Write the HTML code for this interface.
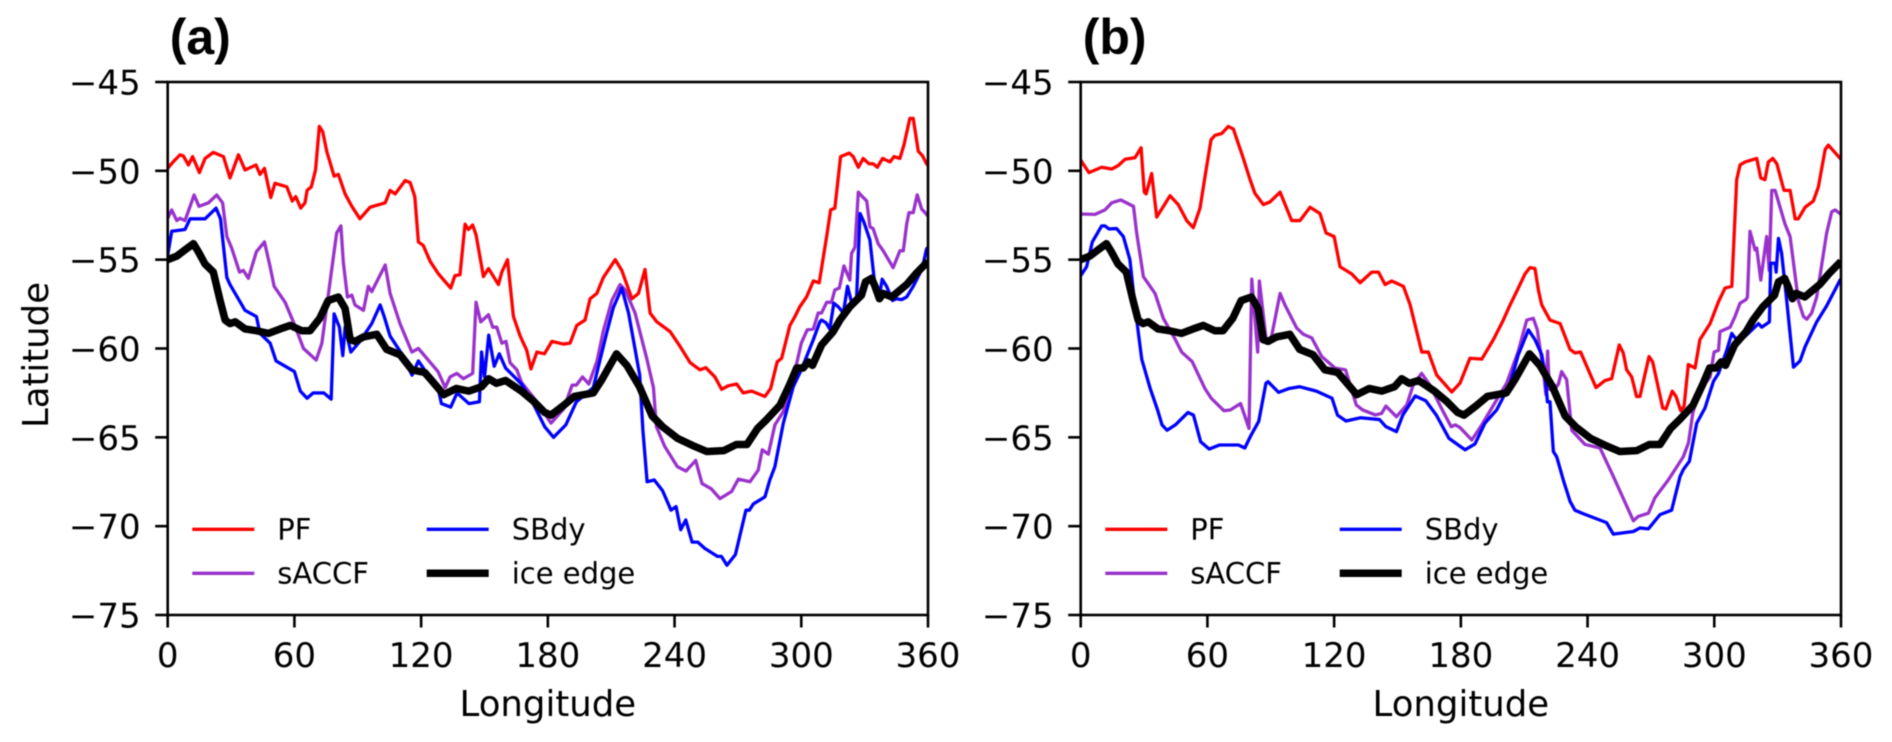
<!DOCTYPE html>
<html lang="en">
<head>
<meta charset="utf-8">
<title>Antarctic fronts and ice edge by longitude</title>
<style>
html,body{margin:0;padding:0;background:#fff;width:1892px;height:742px;overflow:hidden}
svg{display:block;filter:blur(0.5px)}
text{font-family:"DejaVu Sans","Liberation Sans",sans-serif;fill:#000}
.panel-tag{font-family:"Liberation Sans",sans-serif;font-weight:bold}
</style>
</head>
<body>
<svg id="chart" xmlns="http://www.w3.org/2000/svg" width="1892" height="742" viewBox="0 0 1892 742"></svg>
<script>
const xTicks=[0,60,120,180,240,300,360];
const yTicks=[-45,-50,-55,-60,-65,-70,-75];
const legendLabels=['PF','sACCF','SBdy','ice edge'];

const pfALon=[0,2.7,5.8,7.4,9.8,11.8,15,17.7,21.6,26.4,
29.5,33.5,36.6,41.8,43.7,45.8,48.8,50.8,56.4,59,
60.6,63,65,66,68,70,71.8,73.4,75.3,78.8,
80.8,84,87.2,91,95.8,103,105.3,107.7,112.4,114.8,
117,118.7,121,124.3,128.2,134,136,138.4,140.8,142.4,
144.4,146,149.5,151.9,156.6,158.2,160.9,163.7,166.9,170,
172,174.8,178.4,181.9,187.4,190.5,193.7,197.6,200,203.2,
206.3,211.9,215,219.8,222.9,226,228.4,231.6,237.9,242.7,
247.4,252,254.8,259.1,262.3,265.4,269.4,272.5,276.5,282.8,
285.5,288.6,290.7,294.6,297,299.3,302.5,305.7,308.5,312,
313.9,315.9,318.6,322.7,324.6,327,329.3,332,334,336,
338.5,342,343.9,346.7,348.6,351.4,353,355.4,357.4,359.3,360];
const pfALat=[-49.86,-49.48,-49.1,-49.16,-49.67,-49.2,-50.1,-49.3,-48.96,-49.2,
-50.4,-49.1,-49.95,-49.67,-50.2,-49.86,-51.5,-50.7,-50.9,-51.7,
-51.45,-52.1,-51.8,-51.1,-50.9,-49.95,-47.5,-47.8,-48.9,-50.3,
-50.2,-51.3,-52,-52.7,-52.05,-51.8,-51.1,-51.3,-50.55,-50.66,
-51.45,-54,-54.2,-55.1,-55.8,-56.6,-55.9,-55.85,-53,-53.3,
-53.05,-53.6,-55.95,-55.5,-56.4,-55.7,-55,-58.2,-59.3,-60.1,
-61.15,-60.2,-60.3,-59.6,-59.75,-59.7,-58.7,-58.4,-57.2,-56.9,
-56,-55,-55.6,-57.2,-56.9,-55.55,-58,-58.5,-59.05,-59.9,
-60.8,-61.2,-61.08,-61.6,-62.3,-62.1,-62,-62.5,-62.4,-62.7,
-62.25,-60.75,-60.55,-58.7,-58.2,-57.65,-57.1,-56.2,-56.3,-53.7,
-52.2,-52.1,-49.2,-49,-49.2,-49.8,-49.3,-49.6,-49.6,-49.8,
-49.3,-49.5,-49.2,-49.3,-48.55,-47.05,-47.05,-48.9,-49.15,-49.6,-49.7];

const saccfALon=[0,1.9,4.3,5.8,8.2,12.5,14.8,19.3,23.2,26,
28,30.3,34,35.8,38.2,42,45.8,48.5,50.4,55.6,
59.5,64.3,70.3,73,78.5,80,82,83.2,85.1,87.2,
88.7,92.7,95,96.6,103,105.3,110,115.6,118.7,128,
131.4,133.7,136.9,140,144.4,146,148.2,151.9,153.9,155.8,
158.2,160.2,162.1,165.3,167.5,173.5,181.5,187.5,191.5,193.5,
196.4,199.4,203.3,206.3,210.3,214.2,216.6,221.3,226.9,230,
231.4,235.3,241.3,245.4,250,253,257.4,261.5,267,270.2,
275.7,279.6,281.5,284.4,287.5,291.5,293.8,297.8,300,302.8,
305.7,308,309.6,312,314.3,315.9,318,320.2,323,323.8,
325.4,327,328.5,331,332.5,334,336.4,338.8,343.5,346.7,
348.3,349.9,351,353,354.9,357,359.3,360];
const saccfALat=[-52.67,-52.2,-52.8,-52.67,-52.8,-51.36,-52,-51.8,-51.36,-51.8,
-53.7,-54.35,-55.7,-55.6,-56.05,-54.55,-54,-55.4,-56.5,-57.4,
-58.5,-60,-60.65,-59.7,-54.8,-53.5,-53.1,-55.2,-57.1,-57,
-57.55,-57.85,-56.5,-56.8,-55.3,-56.9,-58.6,-60.2,-60,-61.3,
-62.2,-61.6,-61.4,-61.7,-61.4,-57.4,-58.5,-58.1,-58.8,-58.8,
-59.7,-59.6,-60.8,-61.2,-61.9,-62.8,-64.2,-63.4,-62.06,-62.06,
-61.6,-62,-60.7,-59,-57.3,-56.4,-56.7,-58,-60.6,-62.2,
-64.4,-65.5,-66.65,-66.9,-66.3,-67.6,-67.9,-68.45,-68.05,-67.35,
-67.5,-66.85,-65.7,-65.95,-64.3,-63.55,-62.5,-60.85,-59.7,-58.95,
-58.9,-58,-58,-57.4,-57.4,-56.7,-56.6,-55.35,-56.15,-54.65,
-54.3,-51.2,-51.4,-51.7,-53.15,-53.25,-54.1,-54.5,-55.45,-54.5,
-54.5,-53,-52.35,-52.35,-51.35,-52.15,-52.45,-52.55];

const sbdyALon=[0,1.9,8.2,10.6,17.7,22.9,25,28,29.5,36.6,
42,43.7,48.5,51.3,60,62.8,66,68.9,73.9,77.4,
78.8,81.3,82.9,84,86.7,91,96.6,100.6,102.5,105.3,
110.8,115.7,118.7,121.6,127.7,129.6,134,137,142.6,147.6,
148.6,150,152,154.6,157,160,167.5,173.5,178.5,182.7,
188.5,193.5,201.5,207.9,211,215,218.2,223.5,225,227,
230.4,234.3,238.3,240.7,242.9,245.3,248.3,251,254.3,260.3,
262.2,264.8,268.8,270.6,273.8,275.4,277.3,282.8,285.1,287.5,
291.5,296.2,300,305.7,308.8,309.6,311.7,313.5,315.4,317.5,
319.9,321.9,323.8,326.2,327.8,329.7,332.5,334.9,336.8,338.3,
340.4,343.2,345,347.5,349.9,353,356.2,358,359.3,360];
const sbdyALat=[-54.75,-53.4,-53.3,-52.7,-52.7,-52.1,-52.7,-56,-56.4,-57.85,
-58.2,-59.15,-59.7,-60.7,-61.3,-62.4,-62.8,-62.5,-62.5,-62.85,
-58.05,-58.8,-60.4,-58.8,-60.2,-59.6,-58.6,-57.55,-58.2,-59.3,
-60.3,-61.5,-60.7,-61.2,-62.05,-63.1,-63.3,-62.5,-63.1,-63,
-60.2,-61.6,-59.25,-61,-60.3,-61.1,-62,-63.2,-64.4,-65,
-64.3,-63,-62.2,-59.1,-57.7,-56.6,-58,-61.5,-64.6,-67.5,
-67.4,-68,-69.1,-68.9,-70.2,-69.65,-70.9,-70.9,-71.25,-71.7,
-71.7,-72.2,-71.6,-70.7,-69.1,-69.1,-68.75,-68.35,-67.4,-66.65,
-64.2,-62.15,-61.2,-59.5,-58.5,-58.4,-58.55,-58.9,-57.45,-57.65,
-58,-56.5,-57.4,-57.1,-52.4,-52.9,-53.9,-56.5,-57.2,-56.1,
-56.5,-57.3,-57.2,-57.25,-57.1,-56.5,-55.75,-55.1,-54.4,-54.3];

const iceLon=[0,4.3,8.2,12.2,14.5,17.7,21.6,24.8,27.2,29.5,
32,36.6,42,47.7,53.2,58,63.5,67.4,72,76,
80.8,84,86.4,88.7,92.7,99,103.7,110,115.6,121.7,
125,130.7,136.6,142.6,148.6,152,155.6,160,167.5,173.5,
178.5,181.5,187.5,192.5,201.5,205.6,212.5,217.4,223.4,229.4,
234.3,241.3,249.3,255.3,263.3,269.3,274.3,279.3,283.6,289.9,
294.6,297.8,300.9,303.3,305.3,309.6,315.1,318.3,323,328.5,
330.4,333.3,334.9,337,338.8,342.8,349.9,354.6,360];
const iceLat=[-55,-54.8,-54.45,-54.1,-54.55,-55.25,-55.7,-57.3,-58.4,-58.6,
-58.5,-58.9,-59,-59.15,-58.9,-58.7,-59,-59,-58.3,-57.3,
-57.1,-57.75,-59.5,-59.6,-59.35,-59.2,-60.05,-60.35,-61.2,-61.35,
-61.8,-62.6,-62.25,-62.4,-62.15,-61.7,-61.96,-61.8,-62.4,-63,
-63.6,-63.75,-63.2,-62.7,-62.5,-61.75,-60.3,-60.95,-62.15,-63.8,
-64.4,-65.05,-65.5,-65.8,-65.75,-65.4,-65.4,-64.5,-64,-63.2,
-62,-61.1,-61.1,-60.75,-60.95,-59.8,-59.05,-58.4,-57.65,-57,
-56.25,-56.05,-56.5,-57.2,-56.9,-57.1,-56.4,-55.75,-55.1];

const pfBLon=[0,3.9,9.9,14.7,17.8,21,25.7,28.6,30.1,31,
33.6,36,42.3,46.2,50.2,53.3,56.5,58.9,61.7,63.6,
66.8,69.9,72.3,77,80.2,82.5,86.5,89.6,94.4,99.9,
103.8,108.6,113.3,116.2,120,122.8,128.3,132.3,137.8,141,
144.1,147.3,152.8,156,161.5,164.6,168.6,175.7,179.6,184.3,
189.9,195.4,200.1,203.3,206.4,210.4,212.7,215.1,216.7,218.3,
222.2,227,231.7,234,236.7,244,248.3,251.4,255,256.9,
258.5,260.9,263.2,264.8,269.1,270.8,275.6,277.1,280.1,281.9,
284.1,285.7,287.7,290.9,293.2,298,302,305.1,308.3,310.6,
312.2,314.6,320.1,322,324,325.6,327.7,329.6,333,335.9,
338.3,339.8,343,346.9,349.3,352.5,354,359.6,360];
const pfBLat=[-49.4,-50.1,-49.8,-49.9,-49.7,-49.35,-49.26,-48.7,-51.2,-51.3,
-50.15,-52.6,-51.4,-51.9,-52.8,-53.2,-52.1,-50.3,-48.25,-48,
-47.9,-47.5,-47.65,-49.3,-50.5,-51.27,-51.9,-51.75,-51.2,-52.8,
-52.8,-52.05,-52.4,-53.5,-53.7,-55.4,-55.8,-56.3,-55.7,-55.7,
-56.4,-56.2,-56.5,-57.55,-60.2,-60.2,-61.5,-62.45,-61.95,-60.55,
-60.6,-59.5,-58.4,-57.55,-56.8,-55.8,-55.45,-55.5,-56.7,-57.55,
-58.4,-58.6,-60.05,-60.25,-60.2,-62.2,-61.8,-61.7,-59.8,-60.25,
-61.2,-61.6,-62.7,-62.7,-60.45,-60.75,-63.35,-63.4,-62.4,-62.7,
-63.5,-63.25,-60.9,-61.1,-59.5,-58.6,-57.36,-56.6,-56.5,-50.5,
-49.67,-49.5,-49.3,-50.4,-50.5,-49.5,-49.3,-49.6,-51.1,-51.1,
-52.7,-52.7,-52.05,-51.7,-50.9,-48.8,-48.55,-49.3,-49.35];

const saccfBLon=[0,6.8,11.5,14.7,19,25,26.5,29.7,35.2,39.1,
44.8,47.8,52.8,58.8,61.8,67.8,70.8,75.7,79.7,81,
83.8,84.6,88,90.4,94.4,96.7,102.3,105.4,109.4,114.1,
120.4,125.4,130.5,133.5,139.5,142.5,144.5,149.5,154.4,157.4,
161.4,165.4,170.4,175.4,177.4,179.6,185.2,189.9,195.4,201.7,
207.2,211.2,214.3,216.2,219,220.3,221.1,221.9,224.4,226.2,
227.7,230.1,232.5,238.8,245.9,252.2,261.7,264,268.8,271.9,
278.2,285.3,287.8,289.8,292.5,298,299.9,302,302.7,307.5,
309.8,312.2,315,315.7,316.9,319.3,320.1,322,324.8,326,
327.2,328.8,333.5,335.9,339.8,342.2,343.8,346.1,348.5,350,
353.2,355.6,357.2,360];
const saccfBLat=[-52.43,-52.45,-52.2,-51.8,-51.64,-52,-53.5,-55.96,-56.9,-58.3,
-59.5,-60.2,-60.74,-62.25,-62.8,-63.5,-63.46,-63.1,-64.5,-56.1,
-60.2,-56.2,-59.7,-59.3,-56.9,-57.55,-58.85,-59.2,-59.4,-60.45,
-61.1,-61.2,-63.18,-63.46,-63.74,-63.65,-63.24,-63.84,-63.18,-62.06,
-61.4,-62.06,-63.27,-64.4,-64.3,-64.45,-65.15,-64.3,-63.2,-61.95,
-60.15,-58.4,-58.3,-58.95,-61.2,-62.6,-60.15,-62.3,-62.3,-62,
-61.3,-61.75,-64.6,-65.4,-65.6,-67.2,-69.7,-69.45,-69.27,-68.4,
-67.4,-66.1,-65.3,-63.65,-62.5,-61.6,-60.2,-60.1,-59.05,-58.8,
-58.2,-57.45,-57.25,-57.1,-53.4,-54.45,-54.35,-56.15,-53.7,-55.6,
-51.1,-51.1,-53,-53.7,-57.3,-58.2,-58.35,-58,-57.1,-55.95,
-53.5,-52.3,-52.2,-52.45];

const sbdyBLon=[0,2.8,5.5,9.9,11.5,13.4,17,20.2,23.3,25.7,
28.9,32.9,36.5,38.5,40.9,44.8,50.8,53.4,56.8,60.8,
65.8,74.7,77.7,80.7,84.3,87.7,88.7,93.7,98.7,103.6,
111.6,119,121.6,125.6,132.5,141.5,144.5,149.5,152.5,158.4,
163.4,168.4,174.4,179.6,182,186.7,191.4,197,203.3,207.2,
212,215.1,218.3,219.8,221,222.2,223.8,225.4,228.5,231.7,
234,238,249,252.2,261.7,264.8,268.8,274.3,279.8,283.8,
285.4,288.2,291.7,295.6,299.6,302,305.9,308.3,309.8,313,
320.9,322.5,326.1,326.7,328.8,329.3,330.4,331.9,334.3,337.5,
340.6,343,348.5,353.2,359.6,360];
const sbdyBLat=[-55.9,-55.4,-54,-53.1,-53.1,-53.27,-53.25,-53.7,-55,-57.65,
-60.6,-62.25,-63.5,-64.3,-64.6,-64.3,-63.6,-63.75,-65.25,-65.66,
-65.43,-65.43,-65.6,-64.87,-64.1,-61.96,-61.87,-62.47,-62.25,-62.15,
-62.4,-62.8,-63.75,-64.08,-63.9,-64,-64.4,-64.68,-63.75,-62.67,
-62.94,-63.75,-65.06,-65.5,-65.7,-65.37,-64.2,-63.45,-62,-60.35,
-58.95,-59.5,-60.35,-61.4,-63,-63,-65.8,-66.1,-67.4,-68.6,
-69.1,-69.3,-69.8,-70.45,-70.3,-70.1,-70.15,-69.35,-69.1,-67.2,
-66.8,-66.35,-64.2,-63.35,-61.85,-61.4,-60.1,-59.15,-59.4,-59.5,
-58.6,-58.8,-58.5,-55.2,-55.2,-55.7,-53.8,-54.65,-57.3,-61.05,
-60.7,-59.9,-58.5,-57.6,-56.14,-56.1];

const svg=document.getElementById('chart');
const NS='http://www.w3.org/2000/svg';
const plotW=760.3, plotTop=82, plotBottom=615;

function yScale(lat){return plotTop+(-45-lat)/30*(plotBottom-plotTop);}
function xScale(lon,x0){return x0+lon/360*plotW;}
function make(tag,attrs,parent,txt){
  const el=document.createElementNS(NS,tag);
  for(const k in attrs){el.setAttribute(k,attrs[k]);}
  if(txt!==undefined){el.textContent=txt;}
  parent.appendChild(el);
  return el;
}
function linePath(lons,lats,x0){
  let d='';
  for(let i=0;i<lons.length;i++){
    d+=(i?'L':'M')+xScale(lons[i],x0).toFixed(2)+' '+yScale(lats[i]).toFixed(2);
  }
  return d;
}
function drawPanel(id,tag,x0,series){
  const g=make('g',{},svg);
  
  

  const tagEl=make('text',{x:x0+2,y:54,'font-size':50,'class':'panel-tag'},g,tag);
  
  

  const clip=make('clipPath',{id:'clip-'+id},g);
  make('rect',{x:x0,y:plotTop,width:plotW,height:plotBottom-plotTop},clip);

  const plot=make('g',{'clip-path':'url(#clip-'+id+')'},g);
  
  
  series.forEach(function(s){
    const p=make('path',{d:linePath(s.lon,s.lat,x0),fill:'none',stroke:s.color,'stroke-width':s.width,'stroke-linejoin':'round','stroke-linecap':'butt'},plot);
    
    
  });

  const frame=make('rect',{x:x0,y:plotTop,width:plotW,height:plotBottom-plotTop,fill:'none',stroke:'#000','stroke-width':2.6},g);
  
  

  yTicks.forEach(function(v){
    const y=yScale(v);
    const t=make('line',{x1:x0-12.5,x2:x0,y1:y,y2:y,stroke:'#000','stroke-width':2.6},g);
    
    
    const l=make('text',{x:x0-27,y:y+12.5,'font-size':34,'text-anchor':'end'},g,'\u2212'+Math.abs(v));
    
    
  });
  xTicks.forEach(function(v){
    const x=xScale(v,x0);
    const t=make('line',{x1:x,x2:x,y1:plotBottom,y2:plotBottom+12.5,stroke:'#000','stroke-width':2.6},g);
    
    
    const l=make('text',{x:x,y:667,'font-size':34,'text-anchor':'middle'},g,String(v));
    
    
  });

  const xt=make('text',{x:x0+plotW/2,y:716,'font-size':35.5,'text-anchor':'middle'},g,'Longitude');
  
  

  const lg=make('g',{},g);
  
  
  series.forEach(function(s,i){
    const col=i<2?0:1;
    const rowY=(i%2===0)?529.3:573.3;
    const lx=x0+24.6+col*234.4;
    const e=make('g',{},lg);
    
    
    make('line',{x1:lx,x2:lx+62,y1:rowY,y2:rowY,stroke:s.color,'stroke-width':s.width},e);
    make('text',{x:lx+85,y:rowY+10,'font-size':29},e,legendLabels[i]);
  });
}

const ylab=make('text',{x:0,y:0,'font-size':35.5,'text-anchor':'middle',transform:'translate(48 355) rotate(-90)'},svg,'Latitude');



drawPanel('a','(a)',167.7,[
  {name:'pf',lon:pfALon,lat:pfALat,color:'#ff0000',width:3.3},
  {name:'saccf',lon:saccfALon,lat:saccfALat,color:'#9932cc',width:3.3},
  {name:'sbdy',lon:sbdyALon,lat:sbdyALat,color:'#0000ff',width:3.3},
  {name:'ice-edge',lon:iceLon,lat:iceLat,color:'#000000',width:7.5}
]);
drawPanel('b','(b)',1080.7,[
  {name:'pf',lon:pfBLon,lat:pfBLat,color:'#ff0000',width:3.3},
  {name:'saccf',lon:saccfBLon,lat:saccfBLat,color:'#9932cc',width:3.3},
  {name:'sbdy',lon:sbdyBLon,lat:sbdyBLat,color:'#0000ff',width:3.3},
  {name:'ice-edge',lon:iceLon,lat:iceLat,color:'#000000',width:7.5}
]);
</script>
</body>
</html>
